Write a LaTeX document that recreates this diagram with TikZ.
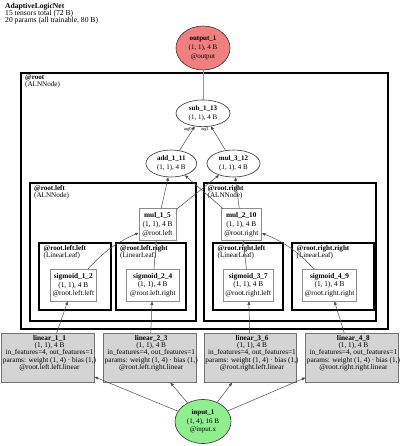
\documentclass[tikz,border=0pt]{standalone}
\usepackage{fontspec}
\setmainfont{Liberation Serif}
\usetikzlibrary{shapes.geometric,arrows.meta}

\definecolor{outfill}{HTML}{F08080}
\definecolor{infill}{HTML}{90EE90}

\tikzset{
  wire/.style={draw=black!70, line width=0.5pt, -{Triangle[length=3.5pt,width=2.8pt]}},
  oval/.style={ellipse, draw=black!80, line width=0.6pt, fill=white, inner sep=0pt, align=center, font=\fontsize{7}{8.8}\selectfont},
  opbox/.style={rectangle, draw=black!45, line width=0.6pt, fill=white, inner sep=0pt, minimum height=31.7pt, align=center, font=\fontsize{7.3}{8.8}\selectfont},
  linbox/.style={rectangle, draw=black!55, line width=0.6pt, fill=black!17, minimum width=92.5pt, minimum height=49pt},
  lintext/.style={inner sep=0pt, align=center, xshift=1.5pt, yshift=4.8pt, font=\fontsize{7.3}{7.3}\selectfont},
  clus/.style={draw=black, line width=2pt, fill=white},
  clab/.style={anchor=north west, inner sep=0pt, align=left, font=\fontsize{7.1}{7}\selectfont},
  arglbl/.style={font=\fontsize{4.5}{4.5}\selectfont, inner sep=0.3pt, anchor=north east}
}

\begin{document}
\begin{tikzpicture}[x=1pt, y=-1pt]
    \useasboundingbox[fill=white] (0,0) rectangle (400,446);

    % Header
    \node[anchor=north west, inner sep=0pt, align=left, font=\fontsize{7.6}{7}\selectfont] (title) at (5,3.3)
        {\textbf{AdaptiveLogicNet}\\15 tensors total (72 B)\\20 params (all trainable, 80 B)};

    % Clusters
    \draw[clus, line width=2.6pt] (21,73) rectangle (388,329);
    \node[clab] (root_lbl) at (25,75) {\textbf{@root}\\(ALNNode)};
    \draw[clus] (30,183) rectangle (195.7,320.7);
    \node[clab] (left_lbl) at (34,185) {\textbf{@root.left}\\(ALNNode)};
    \draw[clus] (204,183) rectangle (376,320.7);
    \node[clab] (right_lbl) at (207.5,185) {\textbf{@root.right}\\(ALNNode)};
    \draw[clus] (39.3,243) rectangle (110.7,309.5);
    \node[clab] (ll_lbl) at (43.5,245) {\textbf{@root.left.left}\\(LinearLeaf)};
    \draw[clus] (116,243) rectangle (185.7,309.5);
    \node[clab] (lr_lbl) at (120,245) {\textbf{@root.left.right}\\(LinearLeaf)};
    \draw[clus] (213.3,243) rectangle (283.3,309.5);
    \node[clab] (rl_lbl) at (217.5,245) {\textbf{@root.right.left}\\(LinearLeaf)};
    \draw[clus] (292.3,243) rectangle (373.5,309.5);
    \node[clab] (rr_lbl) at (296.5,245) {\textbf{@root.right.right}\\(LinearLeaf)};

    % Nodes
    \node[oval, fill=outfill, minimum width=54pt, minimum height=44pt] (output_1) at (203,48)
        {\textbf{output\_1}\\(1, 1), 4 B\\@output};
    \node[oval, minimum width=54pt, minimum height=26.7pt] (sub_1_13) at (203,113.3)
        {\textbf{sub\_1\_13}\\(1, 1), 4 B};
    \node[oval, minimum width=50.7pt, minimum height=27pt] (add_1_11) at (171.3,163.5)
        {\textbf{add\_1\_11}\\(1, 1), 4 B};
    \node[oval, minimum width=53pt, minimum height=27pt] (mul_3_12) at (233.5,163.5)
        {\textbf{mul\_3\_12}\\(1, 1), 4 B};

    \node[opbox, minimum width=37pt] (mul_1_5) at (157.5,224.5) {\textbf{mul\_1\_5}\\(1, 1), 4 B\\@root.left};
    \node[opbox, minimum width=40.7pt] (mul_2_10) at (241.3,224.5) {\textbf{mul\_2\_10}\\(1, 1), 4 B\\@root.right};

    \node[opbox, minimum width=46.7pt] (sigmoid_1_2) at (73.3,285.2) {\textbf{sigmoid\_1\_2}\\(1, 1), 4 B\\@root.left.left};
    \node[opbox, minimum width=53.3pt] (sigmoid_2_4) at (152.7,285.2) {\textbf{sigmoid\_2\_4}\\(1, 1), 4 B\\@root.left.right};
    \node[opbox, minimum width=50pt] (sigmoid_3_7) at (248.3,285.2) {\textbf{sigmoid\_3\_7}\\(1, 1), 4 B\\@root.right.left};
    \node[opbox, minimum width=54.4pt] (sigmoid_4_9) at (329.5,285.2) {\textbf{sigmoid\_4\_9}\\(1, 1), 4 B\\@root.right.right};

    \node[linbox, label={[lintext]center:{\textbf{linear\_1\_1}\\(1, 1), 4 B\\in\_features=4, out\_features=1\\params: weight (1, 4) · bias (1,)\\@root.left.left.linear}}] (linear_1_1) at (48,357.8) {};
    \node[linbox, label={[lintext]center:{\textbf{linear\_2\_3}\\(1, 1), 4 B\\in\_features=4, out\_features=1\\params: weight (1, 4) · bias (1,)\\@root.left.right.linear}}] (linear_2_3) at (149.7,357.8) {};
    \node[linbox, label={[lintext]center:{\textbf{linear\_3\_6}\\(1, 1), 4 B\\in\_features=4, out\_features=1\\params: weight (1, 4) · bias (1,)\\@root.right.left.linear}}] (linear_3_6) at (250.5,357.8) {};
    \node[linbox, label={[lintext]center:{\textbf{linear\_4\_8}\\(1, 1), 4 B\\in\_features=4, out\_features=1\\params: weight (1, 4) · bias (1,)\\@root.right.right.linear}}] (linear_4_8) at (351.9,357.8) {};

    \node[oval, fill=infill, minimum width=56pt, minimum height=44pt] (input_1) at (203,421.5)
        {\textbf{input\_1}\\(1, 4), 16 B\\@input.x};

    % Edges
    \draw[wire, draw=black!40, -] (sub_1_13) -- (output_1);
    \draw[wire] (add_1_11) -- node[arglbl, pos=1, xshift=-2.5pt, yshift=-1pt] {arg0} (sub_1_13);
    \draw[wire] (mul_3_12) -- node[arglbl, pos=1, xshift=-1.5pt, yshift=-1pt] {arg1} (sub_1_13);
    \draw[wire] (mul_1_5) -- (add_1_11);
    \draw[wire] (mul_2_10) -- (add_1_11);
    \draw[wire] (mul_1_5) -- (mul_3_12);
    \draw[wire] (mul_2_10) -- (mul_3_12);
    \draw[wire] (sigmoid_1_2) to[bend left=12] (mul_1_5);
    \draw[wire] (sigmoid_2_4) -- (mul_1_5);
    \draw[wire] (sigmoid_3_7) -- (mul_2_10);
    \draw[wire] (sigmoid_4_9) to[bend right=12] (mul_2_10);
    \foreach \a/\b in {1_1/1_2, 2_3/2_4, 3_6/3_7, 4_8/4_9}
        \draw[wire] (linear_\a) -- (sigmoid_\b);
    \foreach \a in {1_1, 2_3, 3_6, 4_8}
        \draw[wire] (input_1) -- (linear_\a);
\end{tikzpicture}
\end{document}
